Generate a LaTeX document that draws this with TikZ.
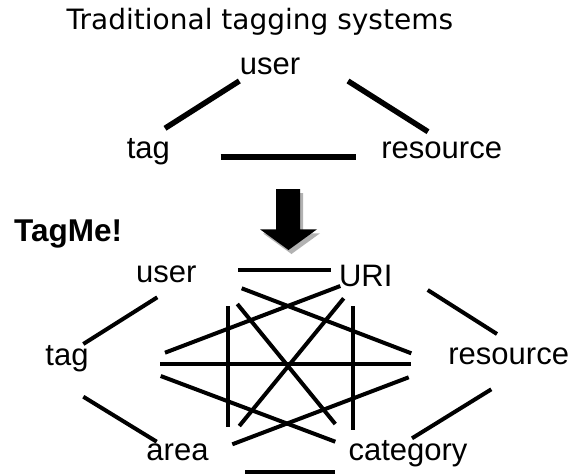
\documentclass[tikz,border=0pt]{standalone}
\usepackage{fontspec}
\setmainfont{Liberation Sans}
\newfontfamily\titlefont{DejaVu Sans}
\begin{document}
\begin{tikzpicture}[x=1pt,y=-1pt,
  lbl/.style={font=\fontsize{31}{31}\selectfont, inner sep=0pt, anchor=base},
  topline/.style={line width=5.5pt},
  link/.style={line width=4pt}]
\useasboundingbox (0,0) rectangle (572,474);

% ---------- traditional ----------
\node[font=\titlefont\fontsize{28}{28}\selectfont, inner sep=0pt, anchor=base west] (title) at (66.5,29.3) {Traditional tagging systems};
\node[lbl] (tuser) at (270,74) {user};
\node[lbl] (ttag) at (148.3,158.3) {tag};
\node[lbl] (tres) at (441.7,158.3) {resource};

\coordinate (t1a) at (239.3,81);   \coordinate (t1b) at (165,128.3);
\coordinate (t2a) at (348,81);     \coordinate (t2b) at (428,131.7);
\coordinate (t3a) at (220.7,157);  \coordinate (t3b) at (356,157);
\draw[topline] (t1a) -- (t1b);
\draw[topline] (t2a) -- (t2b);
\draw[topline] (t3a) -- (t3b);

% ---------- arrow ----------
\fill[black!30, shift={(3,4)}] (276,189) -- (300,189) -- (300,229.3) -- (317,229.3) -- (288.5,250) -- (260,229.3) -- (276,229.3) -- cycle;
\fill[black] (276,189) -- (300,189) -- (300,229.3) -- (317,229.3) -- (288.5,250) -- (260,229.3) -- (276,229.3) -- cycle;

% ---------- TagMe! ----------
\node[font=\bfseries\fontsize{31.5}{31.5}\selectfont, inner sep=0pt, anchor=base west] (tagme) at (14,241.7) {TagMe!};
\node[lbl] (user) at (166.3,282.7) {user};
\node[lbl] (uri) at (365.7,286.7) {URI};
\node[lbl] (tag) at (67,365) {tag};
\node[lbl] (res) at (508.7,364) {resource};
\node[lbl] (area) at (177.5,460.7) {area};
\node[lbl] (cat) at (408,460.7) {category};

\coordinate (uUa) at (238.3,270);   \coordinate (uUb) at (331.3,270);
\coordinate (utA) at (157.3,297.3); \coordinate (utB) at (83.3,344);
\coordinate (UrA) at (427.7,290);   \coordinate (UrB) at (497,334);
\coordinate (taA) at (83.3,396.7);  \coordinate (taB) at (156.7,441.7);
\coordinate (rcA) at (491.3,389.3); \coordinate (rcB) at (412,438.3);
\coordinate (acA) at (245,471.7);   \coordinate (acB) at (335.3,471.7);
\coordinate (vlA) at (228,306);     \coordinate (vlB) at (228,427.3);
\coordinate (vrA) at (352.7,306);   \coordinate (vrB) at (352.7,430);
\coordinate (trA) at (160,364);     \coordinate (trB) at (411.3,364);
\coordinate (tUA) at (165,352.7);   \coordinate (tUB) at (340.3,286);
\coordinate (urA) at (241.7,288.3); \coordinate (urB) at (411.3,353.3);
\coordinate (tcA) at (160.7,376);   \coordinate (tcB) at (335.3,441.7);
\coordinate (arA) at (232.3,444.3); \coordinate (arB) at (408.7,377.3);
\coordinate (ucA) at (237.3,304);   \coordinate (ucB) at (335.3,424);
\coordinate (UaA) at (343.7,298.3); \coordinate (UaB) at (239.3,426);

\foreach \a/\b in {uUa/uUb, utA/utB, UrA/UrB, taA/taB, rcA/rcB, acA/acB,
                   vlA/vlB, vrA/vrB, trA/trB, tUA/tUB, urA/urB, tcA/tcB,
                   arA/arB, ucA/ucB, UaA/UaB}
  \draw[link] (\a) -- (\b);
\end{tikzpicture}
\end{document}
